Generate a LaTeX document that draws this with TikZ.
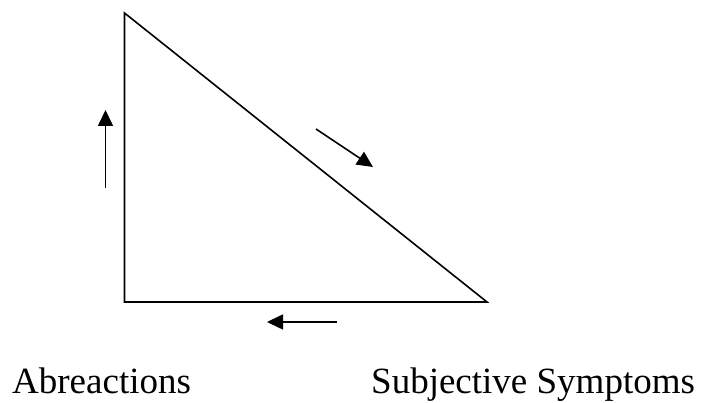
\documentclass[tikz,border=0pt]{standalone}
\usepackage{fontspec}
\setmainfont{Liberation Serif}
\usetikzlibrary{arrows.meta}
\begin{document}
\begin{tikzpicture}[x=1pt,y=1pt,
  edge/.style={line width=1.6pt, line join=miter},
  flow/.style={line width=1.6pt, -{Triangle[length=16pt,width=15pt]}},
  lbl/.style={inner sep=0pt, anchor=base west, font=\fontsize{37}{40}\selectfont}]
\useasboundingbox (0,0) rectangle (701,403);
% triangle vertices
\coordinate (top) at (124.5,390);
\coordinate (bl) at (124.5,101);
\coordinate (br) at (487,101);
\draw[edge] (top) -- (bl) -- (br) -- cycle;
% arrows
\coordinate (lt) at (105.5,215);
\coordinate (lh) at (105.5,293);
\draw[flow] (lt) -- (lh);
\coordinate (dt) at (316,274);
\coordinate (dh) at (373,236);
\draw[flow] (dt) -- (dh);
\coordinate (bt) at (337,81);
\coordinate (bh) at (267,81);
\draw[flow] (bt) -- (bh);
% labels
\node[lbl] (abr) at (12,9.5) {Abreactions};
\node[lbl] (sub) at (371,9.5) {Subjective Symptoms};
\end{tikzpicture}
\end{document}
